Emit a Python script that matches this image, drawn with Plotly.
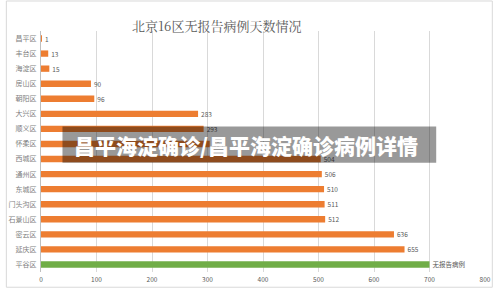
import plotly.graph_objects as go

districts = ["昌平区", "丰台区", "海淀区", "房山区", "朝阳区", "大兴区", "顺义区", "怀柔区",
             "西城区", "通州区", "东城区", "门头沟区", "石景山区", "密云区", "延庆区", "平谷区"]
days = [1, 13, 15, 90, 96, 283, 293, 304, 504, 506, 510, 511, 512, 636, 655, 700]
labels = ["1", "13", "15", "90", "96", "283", "293", "304", "504", "506", "510", "511", "512",
          "636", "655", "无报告病例"]
x_ticks = [0, 100, 200, 300, 400, 500, 600, 700, 800]

title_text = "北京16区无报告病例天数情况"
banner_text = "昌平海淀确诊/昌平海淀确诊病例详情"

ORANGE = "#ED7D31"
GREEN = "#70AD47"
colors = [GREEN if t == "无报告病例" else ORANGE for t in labels]

W, H = 500, 293
L, R, T, B = 36, 9, 31, 17
pw, ph = W - L - R, H - T - B

def px_x(p):
    return (p - L) / pw

def px_y(p):
    return (H - B - p) / ph

fig = go.Figure()
fig.add_trace(go.Bar(
    x=days, y=districts, orientation="h",
    marker=dict(color=colors, line=dict(width=0)),
    text=labels, textposition="outside", constraintext="none", cliponaxis=False,
    textfont=dict(family="Noto Sans CJK SC", size=6.5, color="#595959"),
    width=0.42,
))

fig.update_layout(
    width=W, height=H,
    margin=dict(l=L, r=R, t=T, b=B),
    paper_bgcolor="white", plot_bgcolor="white",
    showlegend=False,
    font=dict(family="Noto Sans CJK SC", color="#595959"),
    xaxis=dict(range=[0, 800], tickvals=x_ticks, showgrid=True, gridcolor="#d9d9d9",
               gridwidth=1, zeroline=False, showline=False,
               tickfont=dict(size=6.5, color="#595959"), ticks="", ticklabelstandoff=2),
    yaxis=dict(autorange="reversed", showgrid=False, showline=True, linecolor="#bfbfbf",
               linewidth=1, ticks="", tickfont=dict(size=7, color="#808080"),
               ticklabelstandoff=2),
)

# outer border
fig.add_shape(type="rect", xref="paper", yref="paper",
              x0=px_x(0.5), x1=px_x(498.5), y0=px_y(291.5), y1=px_y(0.5),
              line=dict(color="#d9d9d9", width=1), fillcolor="rgba(0,0,0,0)", layer="below")

# title
fig.add_annotation(text=title_text, xref="paper", yref="paper",
                   x=px_x(216), y=px_y(25), xanchor="center", yanchor="middle",
                   showarrow=False, font=dict(size=13, color="#595959",
                                              family="Noto Serif CJK SC, Noto Sans CJK SC"))

# banner overlay
fig.add_shape(type="rect", xref="paper", yref="paper",
              x0=px_x(58), x1=px_x(441), y0=px_y(165), y1=px_y(128),
              line=dict(width=0), fillcolor="rgba(0,0,0,0.4)", layer="above")
fig.add_annotation(text=banner_text, xref="paper", yref="paper",
                   x=px_x(68), y=px_y(146.5), xanchor="left", yanchor="middle",
                   showarrow=False, font=dict(size=21, color="white", weight=900,
                                              family="Noto Sans CJK SC"))

fig.write_html("out.html")
